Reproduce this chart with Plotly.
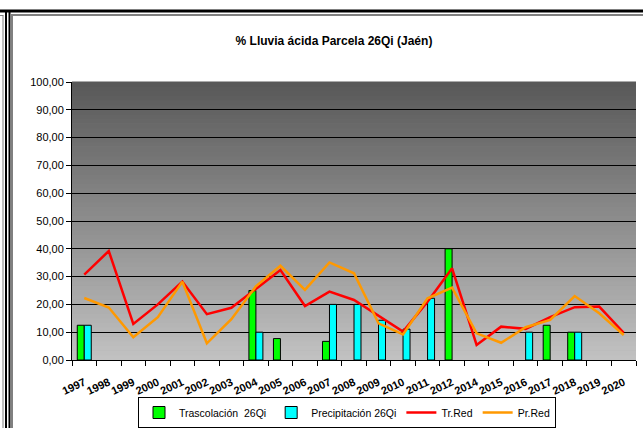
import plotly.graph_objects as go

years = ["1997", "1998", "1999", "2000", "2001", "2002", "2003", "2004", "2005", "2006",
         "2007", "2008", "2009", "2010", "2011", "2012", "2014", "2015", "2016", "2017",
         "2018", "2019", "2020"]
trascolacion = [12.5, None, None, None, None, None, None, 25.0, 7.7, None,
                6.7, None, None, None, None, 40.0, None, None, None, 12.5,
                10.0, None, None]
precipitacion = [12.5, None, None, None, None, None, None, 10.0, None, None,
                 20.0, 20.0, 14.3, 11.1, 22.2, None, None, None, 10.0, None,
                 10.0, None, None]
tr_red = [30.7, 39.2, 13.0, 20.0, 28.2, 16.5, 18.8, 25.5, 32.4, 19.4,
          24.6, 21.6, 15.9, 10.2, 21.0, 33.0, 5.4, 12.0, 11.2, 15.4,
          19.0, 19.2, 9.8]
pr_red = [22.3, 18.9, 8.2, 15.4, 28.2, 6.0, 14.7, 26.5, 33.9, 25.2,
          35.1, 31.2, 13.2, 9.2, 22.2, 26.0, 9.6, 6.2, 11.8, 14.4,
          23.0, 16.8, 9.0]
yticks = [0, 10, 20, 30, 40, 50, 60, 70, 80, 90, 100]

W, H = 643, 428
ML, MR, MT, MB = 72, 7, 82, 68
PW, PH = W - ML - MR, H - MT - MB

def px(x):
    return (x - ML) / PW

def py(y):
    return (H - MB - y) / PH

font_fam = "Arial, Liberation Sans, sans-serif"

fig = go.Figure()
fig.add_trace(go.Bar(x=years, y=trascolacion, name="Trascolación  26Qi",
                     marker=dict(color="#00ff00", line=dict(color="black", width=1))))
fig.add_trace(go.Bar(x=years, y=precipitacion, name="Precipitación 26Qi",
                     marker=dict(color="#00ffff", line=dict(color="black", width=1))))
fig.add_trace(go.Scatter(x=years, y=tr_red, name="Tr.Red", mode="lines",
                         line=dict(color="#ff0000", width=2.5)))
fig.add_trace(go.Scatter(x=years, y=pr_red, name="Pr.Red", mode="lines",
                         line=dict(color="#ff9900", width=2.5)))

shapes = []
# gradient background
n = 60
top = (88, 88, 88)
bot = (194, 194, 194)
for i in range(n):
    f = (i + 0.5) / n
    c = tuple(int(round(bot[k] + (top[k] - bot[k]) * f)) for k in range(3))
    shapes.append(dict(type="rect", xref="paper", yref="paper", x0=0, x1=1,
                       y0=i / n, y1=(i + 1) / n + 0.002, line=dict(width=0),
                       fillcolor="rgb(%d,%d,%d)" % c, layer="below"))
# frame decorations
def seg(x0, y0, x1, y1, color, w):
    shapes.append(dict(type="line", xref="paper", yref="paper",
                       x0=px(x0), y0=py(y0), x1=px(x1), y1=py(y1),
                       line=dict(color=color, width=w), layer="above"))

seg(0, 11, W, 11, "black", 3)
seg(6, 11, 6, H, "black", 2)
seg(9.5, 11, 9.5, H, "black", 2)
seg(0, 15.5, 3.5, 15.5, "#808080", 1)
seg(3, 15.5, 3, H, "#808080", 1)
seg(12, 15, 12, H, "#808080", 2)
seg(11, 15, W, 15, "#808080", 2)

fig.update_layout(
    width=W, height=H,
    margin=dict(l=ML, r=MR, t=MT, b=MB, autoexpand=False),
    paper_bgcolor="white", plot_bgcolor="#a0a0a0",
    separators=",.",
    barmode="group", bargap=0.43, bargroupgap=0,
    title=dict(text="% Lluvia ácida Parcela 26Qi (Jaén)", x=334 / W, xref="container",
               xanchor="center", y=1 - 41 / H, yref="container", yanchor="middle",
               font=dict(family=font_fam, size=12, color="black", weight="bold")),
    font=dict(family=font_fam, size=11, color="black"),
    showlegend=True,
    legend=dict(orientation="h", x=px(138), xanchor="left", y=py(397), yanchor="top",
                bgcolor="white", bordercolor="black", borderwidth=1,
                font=dict(family=font_fam, size=10.5, color="black"),
                traceorder="normal"),
    shapes=shapes,
)
fig.update_xaxes(type="category", showline=True, linecolor="black", linewidth=1,
                 ticks="outside", tickson="boundaries", ticklen=5, tickcolor="black",
                 tickangle=-25, ticklabelstandoff=11, showgrid=False, automargin=False,
                 tickfont=dict(family=font_fam, size=11, color="black", weight="bold"))
fig.update_yaxes(range=[0, 100], tickvals=yticks, tickformat=".2f",
                 showline=True, linecolor="black", linewidth=1,
                 ticks="outside", ticklen=5, tickcolor="black", automargin=False,
                 showgrid=True, gridcolor="black", gridwidth=1, zeroline=False,
                 tickfont=dict(family=font_fam, size=11, color="black"))

fig.write_html("out.html", config={"displayModeBar": False},
               post_script="document.body.style.margin='0';document.body.style.overflow='hidden';")
